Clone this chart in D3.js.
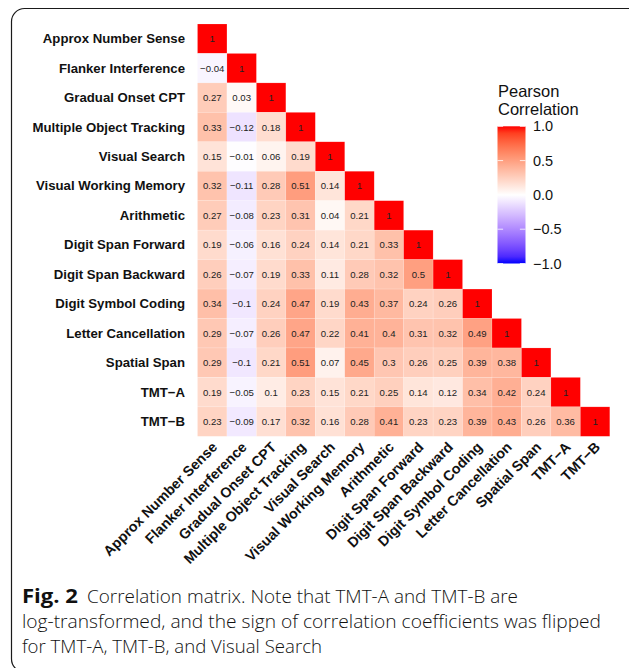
<!DOCTYPE html>
<html><head><meta charset="utf-8">
<script src="https://cdn.jsdelivr.net/npm/d3@7"></script>
<style>body{margin:0;background:#fff}</style>
</head><body><svg id="c" width="629" height="668" xmlns="http://www.w3.org/2000/svg"></svg>
<script>
const variables = ["Approx Number Sense","Flanker Interference","Gradual Onset CPT","Multiple Object Tracking","Visual Search","Visual Working Memory","Arithmetic","Digit Span Forward","Digit Span Backward","Digit Symbol Coding","Letter Cancellation","Spatial Span","TMT\u2212A","TMT\u2212B"];
// lower triangle, row i has values for columns 0..i-1
const correlations = [
  [],
  [-0.04],
  [0.27, 0.03],
  [0.33, -0.12, 0.18],
  [0.15, -0.01, 0.06, 0.19],
  [0.32, -0.11, 0.28, 0.51, 0.14],
  [0.27, -0.08, 0.23, 0.31, 0.04, 0.21],
  [0.19, -0.06, 0.16, 0.24, 0.14, 0.21, 0.33],
  [0.26, -0.07, 0.19, 0.33, 0.11, 0.28, 0.32, 0.5],
  [0.34, -0.1, 0.24, 0.47, 0.19, 0.43, 0.37, 0.24, 0.26],
  [0.29, -0.07, 0.26, 0.47, 0.22, 0.41, 0.4, 0.31, 0.32, 0.49],
  [0.29, -0.1, 0.21, 0.51, 0.07, 0.45, 0.3, 0.26, 0.25, 0.39, 0.38],
  [0.19, -0.05, 0.1, 0.23, 0.15, 0.21, 0.25, 0.14, 0.12, 0.34, 0.42, 0.24],
  [0.23, -0.09, 0.17, 0.32, 0.16, 0.28, 0.41, 0.23, 0.23, 0.39, 0.43, 0.26, 0.36]
];
const legendTicks = [1, 0.5, 0, -0.5, -1];
const legendTitle = ["Pearson", "Correlation"];
const captionBold = "Fig. 2";
const captionLines = [
  "Correlation matrix. Note that TMT-A and TMT-B are",
  "log-transformed, and the sign of correlation coefficients was flipped",
  "for TMT-A, TMT-B, and Visual Search"
];

const svg = d3.select("#c");
const FONT = "'Liberation Sans', Arial, Helvetica, sans-serif";
const CAPFONT = "'Open Sans', 'Noto Sans', sans-serif";

// frame
svg.append("path")
  .attr("d", "M640,8.5 H24.5 A13,13 0 0 0 11.5,21.5 V659 A13,13 0 0 0 24.5,672")
  .attr("fill", "none").attr("stroke", "#1a1a1a").attr("stroke-width", 1.2);

const x = d3.scaleBand().domain(variables).range([197.5, 609.8]);
const y = d3.scaleBand().domain(variables).range([24, 436.3]);
const color = d3.scaleLinear().domain([-1, 0, 1]).range(["blue", "white", "red"]).interpolate(d3.interpolateLab);

const cells = [];
variables.forEach((rv, i) => {
  for (let j = 0; j <= i; j++) {
    const v = j === i ? 1 : correlations[i][j];
    cells.push({row: rv, col: variables[j], v, diag: j === i});
  }
});
const fmt = v => String(v).replace("-", "\u2212");

const g = svg.append("g");
g.selectAll("rect.cell").data(cells).join("rect")
  .attr("class", "cell")
  .attr("x", d => x(d.col)).attr("y", d => y(d.row))
  .attr("width", x.bandwidth()).attr("height", y.bandwidth())
  .attr("fill", d => color(d.v))
  .attr("stroke", "#fff").attr("stroke-opacity", 0.3).attr("stroke-width", 0.5);

g.selectAll("text.val").data(cells).join("text")
  .attr("class", "val")
  .attr("x", d => x(d.col) + x.bandwidth() / 2)
  .attr("y", d => y(d.row) + y.bandwidth() / 2)
  .attr("text-anchor", "middle").attr("dominant-baseline", "central")
  .attr("font-family", FONT).attr("font-size", 9.6).attr("fill", "#222")
  .text(d => fmt(d.v));

// row labels
svg.append("g").selectAll("text").data(variables).join("text")
  .attr("x", 185).attr("y", d => y(d) + y.bandwidth() / 2)
  .attr("text-anchor", "end").attr("dominant-baseline", "central")
  .attr("font-family", FONT).attr("font-weight", "bold").attr("font-size", 13.2).attr("fill", "#111")
  .text(d => d);

// column labels
svg.append("g").selectAll("text").data(variables).join("text")
  .attr("transform", d => `translate(${x(d) + x.bandwidth() / 2 + 6},${448}) rotate(-45)`)
  .attr("text-anchor", "end")
  .attr("font-family", FONT).attr("font-weight", "bold").attr("font-size", 14.3).attr("fill", "#111")
  .text(d => d);

// legend
const ly = d3.scaleLinear().domain([-1, 1]).range([263.5, 126.3]);
const defs = svg.append("defs");
const grad = defs.append("linearGradient").attr("id", "lg").attr("x1", 0).attr("y1", 1).attr("x2", 0).attr("y2", 0);
d3.range(0, 1.0001, 0.05).forEach(t => {
  grad.append("stop").attr("offset", t).attr("stop-color", color(-1 + 2 * t));
});
const lx = 497.5, lw = 28;
svg.append("rect").attr("x", lx).attr("y", ly(1)).attr("width", lw).attr("height", ly(-1) - ly(1)).attr("fill", "url(#lg)");
const lg = svg.append("g");
lg.selectAll("line.tl").data(legendTicks).join("line")
  .attr("x1", lx).attr("x2", lx + lw / 5).attr("y1", d => ly(d)).attr("y2", d => ly(d))
  .attr("stroke", "#fff").attr("stroke-width", 0.8);
lg.selectAll("line.tr").data(legendTicks).join("line")
  .attr("x1", lx + lw - lw / 5).attr("x2", lx + lw).attr("y1", d => ly(d)).attr("y2", d => ly(d))
  .attr("stroke", "#fff").attr("stroke-width", 0.8);
lg.selectAll("text").data(legendTicks).join("text")
  .attr("x", 533).attr("y", d => ly(d)).attr("dominant-baseline", "central")
  .attr("font-family", FONT).attr("font-size", 14.5).attr("fill", "#111")
  .text(d => fmt(d.toFixed(1)));
svg.append("g").selectAll("text").data(legendTitle).join("text")
  .attr("x", 498).attr("y", (d, i) => 96.7 + i * 18.3)
  .attr("font-family", FONT).attr("font-size", 16.5).attr("fill", "#111")
  .text(d => d);

// caption
const cap = svg.append("g").attr("font-family", CAPFONT).attr("fill", "#111");
cap.append("text").attr("x", 22).attr("y", 603).attr("font-weight", "bold").attr("font-size", 19)
  .attr("textLength", 56).attr("lengthAdjust", "spacingAndGlyphs").text(captionBold);
cap.append("text").attr("x", 87).attr("y", 603).attr("font-size", 18).attr("font-weight", 300)
  .attr("textLength", 431).attr("lengthAdjust", "spacingAndGlyphs").text(captionLines[0]);
cap.append("text").attr("x", 22).attr("y", 628).attr("font-size", 18).attr("font-weight", 300)
  .attr("textLength", 579).attr("lengthAdjust", "spacingAndGlyphs").text(captionLines[1]);
cap.append("text").attr("x", 22).attr("y", 653).attr("font-size", 18).attr("font-weight", 300)
  .attr("textLength", 300).attr("lengthAdjust", "spacingAndGlyphs").text(captionLines[2]);
</script>
</body></html>
